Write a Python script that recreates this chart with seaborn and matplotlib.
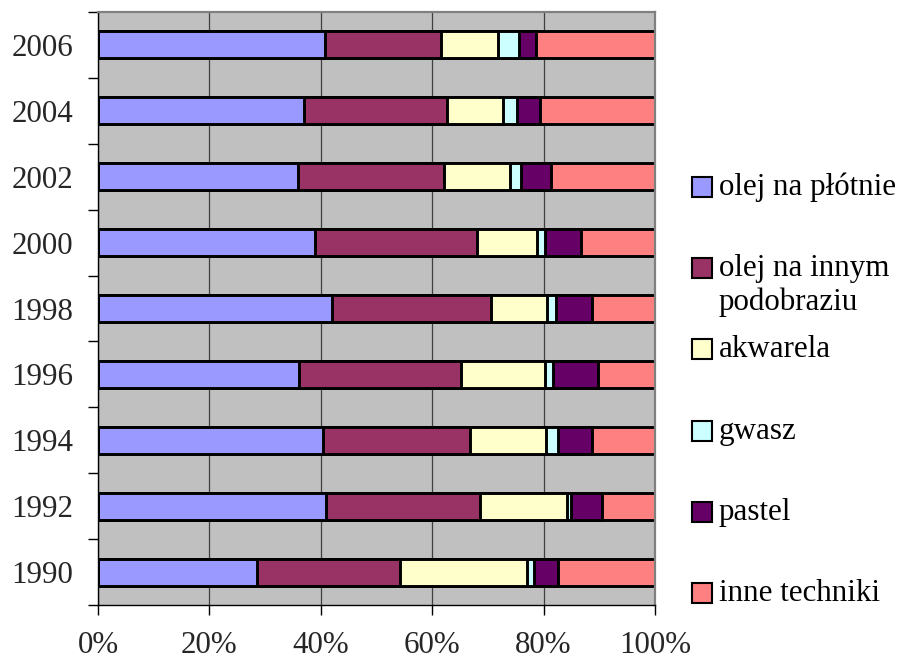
import numpy as np
import pandas as pd
import matplotlib
matplotlib.use("Agg")
import matplotlib.pyplot as plt
import seaborn as sns
from matplotlib.patches import Rectangle

# ---- data ----
years = ['2006', '2004', '2002', '2000', '1998', '1996', '1994', '1992', '1990']
olej_na_plotnie = [40.7, 37.0, 35.9, 38.9, 42.1, 36.0, 40.4, 40.9, 28.6]
olej_na_innym = [20.8, 25.6, 26.3, 29.2, 28.4, 29.2, 26.4, 27.6, 25.7]
akwarela = [10.4, 10.1, 11.7, 10.7, 10.2, 15.1, 13.7, 15.7, 22.8]
gwasz = [3.6, 2.5, 2.1, 1.5, 1.6, 1.4, 2.0, 0.7, 1.1]
pastel = [3.1, 4.1, 5.4, 6.4, 6.4, 8.0, 6.1, 5.6, 4.3]
inne_techniki = [21.4, 20.7, 18.6, 13.3, 11.3, 10.3, 11.4, 9.5, 17.5]

series_labels = ['olej na płótnie', 'olej na innym\npodobraziu', 'akwarela',
                 'gwasz', 'pastel', 'inne techniki']
series_colors = ['#9999FF', '#993366', '#FFFFCC', '#CCFFFF', '#660066', '#FF8080']
x_ticks = [0, 20, 40, 60, 80, 100]
x_tick_labels = ['0%', '20%', '40%', '60%', '80%', '100%']

sns.set_style('ticks')
plt.rcParams['font.family'] = ['Liberation Serif', 'DejaVu Serif']

vals = np.array([olej_na_plotnie, olej_na_innym, akwarela, gwasz, pastel, inne_techniki], dtype=float)
vals = vals / vals.sum(axis=0) * 100.0
cum = np.cumsum(vals, axis=0)

fig = plt.figure(figsize=(9, 6.62), dpi=100)
W, H = 900, 662
ax = fig.add_axes([98 / W, 1 - 605 / H, (655 - 98) / W, (605 - 12) / H])
ax.set_facecolor('#C0C0C0')

for i in range(len(series_labels) - 1, -1, -1):
    df = pd.DataFrame({'year': years, 'value': cum[i]})
    sns.barplot(data=df, x='value', y='year', order=years, orient='h',
                color=series_colors[i], saturation=1, width=0.41,
                edgecolor='black', linewidth=2.1, errorbar=None, ax=ax)

ax.set_xlim(0, 100)
ax.set_ylim(len(years) - 0.5, -0.5)
ax.set_xlabel('')
ax.set_ylabel('')
ax.set_axisbelow(True)
ax.xaxis.grid(True, color='#404040', linewidth=0.9)
ax.yaxis.grid(False)

ax.set_xticks(x_ticks, labels=x_tick_labels)
ax.set_yticks(np.arange(len(years) + 1) - 0.5, labels=[])
ax.set_yticks(np.arange(len(years)), labels=years, minor=True)
ax.tick_params(axis='x', which='major', length=7, width=1, color='black',
               labelsize=22.3, pad=12, direction='out')
ax.tick_params(axis='y', which='major', length=7, width=1, color='black', direction='out')
ax.tick_params(axis='y', which='minor', length=0, labelsize=22.3, pad=18)

for s in ['left', 'bottom']:
    ax.spines[s].set_color('black')
    ax.spines[s].set_linewidth(1)
for s in ['top', 'right']:
    ax.spines[s].set_visible(True)
    ax.spines[s].set_color('#808080')
    ax.spines[s].set_linewidth(1.6)

# ---- legend (manual, Excel style) ----
for k, (lab, col) in enumerate(zip(series_labels, series_colors)):
    yc = 187 + 81.2 * k
    fig.add_artist(Rectangle((692 / W, 1 - (yc + 10) / H), 20 / W, 20 / H,
                             facecolor=col, edgecolor='black', linewidth=1.5,
                             transform=fig.transFigure))
    lines = lab.split('\n')
    for j, line in enumerate(lines):
        fig.text(719 / W, 1 - (yc + 8 + 34 * j) / H, line, fontsize=22.3,
                 va='baseline', ha='left', color='black')

fig.savefig('out.png', dpi=100)
